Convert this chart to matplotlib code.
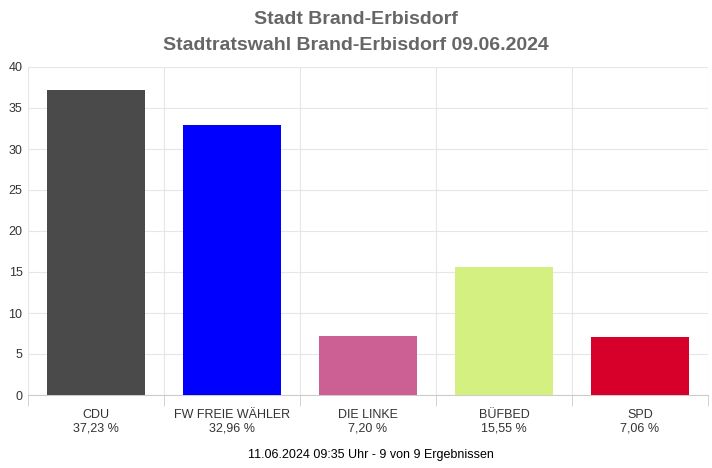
import matplotlib
matplotlib.use("Agg")
import matplotlib.pyplot as plt
import numpy as np

plt.rcParams['font.family'] = ['Liberation Sans', 'DejaVu Sans']

parties = ["CDU", "FW FREIE WÄHLER", "DIE LINKE", "BÜFBED", "SPD"]
values = [37.23, 32.96, 7.20, 15.55, 7.06]
colors = ["#4a4a4a", "#0000ff", "#cc6095", "#d4f080", "#d7002b"]
yticks = [0, 5, 10, 15, 20, 25, 30, 35, 40]

fig = plt.figure(figsize=(7.12, 4.68), dpi=100)
ax = fig.add_axes([28/712, 1-395/468, 680/712, 328/468])
x = np.arange(len(parties))
ax.bar(x, values, width=0.72, color=colors, zorder=3)
ax.set_xlim(-0.5, len(parties)-0.5)
ax.set_ylim(0, 40)
ax.set_yticks(yticks)
ax.tick_params(axis='y', length=0, labelsize=9, colors='#333333', pad=4)
ax.set_xticks(x)
ax.set_xticklabels([f"{p}\n{v:.2f} %".replace('.', ',') for p, v in zip(parties, values)],
                   fontsize=9, color='#333333')
ax.tick_params(axis='x', length=0, pad=10)
ax.set_xticks(np.arange(-0.5, len(parties)), minor=True)
ax.tick_params(axis='x', which='minor', length=8, color='#cccccc')
ax.grid(axis='y', color='#e6e6e6', lw=0.8, zorder=0)
ax.grid(axis='x', which='minor', color='#e6e6e6', lw=0.8, zorder=0)
for s in ['top', 'right', 'left']:
    ax.spines[s].set_visible(False)
ax.spines['bottom'].set_color('#cccccc')

fig.text(0.5, 1-20/468, "Stadt Brand-Erbisdorf", ha='center', va='center',
         fontsize=14, fontweight='bold', color='#666666')
fig.text(0.5, 1-45/468, "Stadtratswahl Brand-Erbisdorf 09.06.2024", ha='center', va='center',
         fontsize=14, fontweight='bold', color='#666666')
fig.text(371/712, 1-455/468, "11.06.2024 09:35 Uhr - 9 von 9 Ergebnissen", ha='center', va='center',
         fontsize=9, color='#000000')
fig.savefig("out.png", dpi=100)
